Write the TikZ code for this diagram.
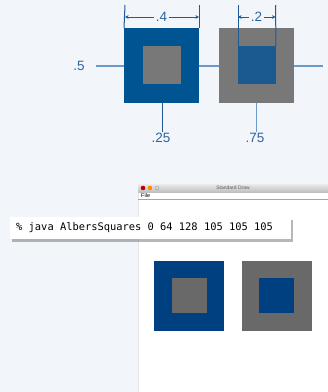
\documentclass[tikz,border=0pt]{standalone}
\usepackage{fontspec}
\setmainfont{Liberation Sans}
\newfontfamily\cmdfont{DejaVu Sans Mono}
\usetikzlibrary{arrows.meta,shadows,positioning}
\definecolor{bgc}{HTML}{F2F5F9}
\definecolor{outerblue}{HTML}{005492}
\definecolor{innergray}{HTML}{787878}
\definecolor{innerblue}{HTML}{1B5A91}
\definecolor{lblc}{HTML}{2A64A0}
\definecolor{dimc}{HTML}{1F5A96}
\definecolor{hlinec}{HTML}{6B9AC6}
\definecolor{sdblue}{HTML}{004080}
\definecolor{sdgray}{HTML}{696969}
\tikzset{
  sq/.style={rectangle, inner sep=0pt, outer sep=0pt, draw=none},
  lbl/.style={text=lblc, font=\fontsize{13.5}{14}\selectfont, inner sep=1.5pt},
  dimline/.style={draw=dimc, line width=1pt},
  dimarrow/.style={draw=dimc, line width=0.9pt, -{Stealth[length=3.5pt,width=3.5pt]}},
  hline/.style={draw=hlinec, line width=1.2pt},
  vline/.style={draw=dimc, line width=1pt},
}
\begin{document}
\begin{tikzpicture}[x=1pt,y=-1pt]
\useasboundingbox (0,0) rectangle (328,392);
\fill[bgc] (0,0) rectangle (328,392);
% top diagram
\coordinate (hl) at (96,66);
\coordinate (hr) at (323,66);
\draw[hline] (hl) -- (hr);
\node[sq, fill=outerblue, minimum size=75pt] (o1) at (161.5,65.5) {};
\node[sq, fill=innergray, minimum size=38pt] (i1) at (162,65) {};
\node[sq, fill=innergray, minimum size=75pt] (o2) at (256.5,65.5) {};
\node[sq, fill=innerblue, minimum size=38pt] (i2) at (257,65) {};
\node[lbl] (l5) at (79,66) {.5};
\node[lbl] (l25) at (161,138) {.25};
\node[lbl] (l75) at (255,138) {.75};
\coordinate (b1) at (162,103);
\coordinate (b2) at (256,103);
\draw[vline] (b1) -- (b1 |- l25.north);
\draw[vline, draw=hlinec] (b2) -- (b2 |- l75.north);
% dimension .4
\coordinate (t1a) at (125,5);
\coordinate (t1b) at (199,5);
\draw[dimline] (t1a) -- (o1.north west);
\draw[dimline] (t1b) -- (o1.north east);
\node[lbl] (l4) at (161.5,17) {.4};
\draw[dimarrow] (l4.west) -- (l4.west -| t1a);
\draw[dimarrow] (l4.east) -- (l4.east -| t1b);
% dimension .2
\coordinate (t2a) at (238,5);
\coordinate (t2b) at (275.5,5);
\draw[dimline] (t2a) -- (i2.north west);
\draw[dimline] (t2b) -- (i2.north east);
\node[lbl, inner sep=2pt] (l2) at (256.5,17) {.2};
\draw[dimarrow] (l2.west) -- (l2.west -| t2a);
\draw[dimarrow] (l2.east) -- (l2.east -| t2b);
% window
\node[sq, fill=white, draw=black!10, minimum width=191pt, minimum height=208pt, anchor=north west] (win) at (138,184) {};
\shade[top color=black!8, bottom color=black!25] (138,184) rectangle (328,192);
\draw[black!35, line width=0.6pt] (138,199) -- (328,199);
\fill[red!75!black] (143,188) circle (2.3pt);
\fill[orange!90!yellow] (150,188) circle (2.3pt);
\draw[black!40, line width=0.4pt] (157,188) circle (2pt);
\node[font=\fontsize{5}{6}\selectfont, text=black!65, inner sep=0pt] (title) at (233,188) {Standard Draw};
\node[font=\fontsize{5.5}{6}\selectfont, inner sep=0pt, anchor=west] (file) at (141,195.5) {File};
% squares in window
\node[sq, fill=sdblue, minimum size=70pt] (so1) at (189,296) {};
\node[sq, fill=sdgray, minimum size=35pt] (si1) at (189.5,295.5) {};
\node[sq, fill=sdgray, minimum size=70pt] (so2) at (277,296) {};
\node[sq, fill=sdblue, minimum size=35pt] (si2) at (276.5,295.5) {};
% command box
\node[sq, fill=white, minimum width=281pt, minimum height=22pt, anchor=north west,
  drop shadow={shadow xshift=2pt, shadow yshift=-3pt, opacity=0.4, fill=black!70}] (cmd) at (10,217) {};
\node[font=\cmdfont\fontsize{10.4}{12}\selectfont, anchor=west, inner sep=0pt] (cmdtext) at (16,228) {\% java AlbersSquares 0 64 128 105 105 105};
\end{tikzpicture}
\end{document}
